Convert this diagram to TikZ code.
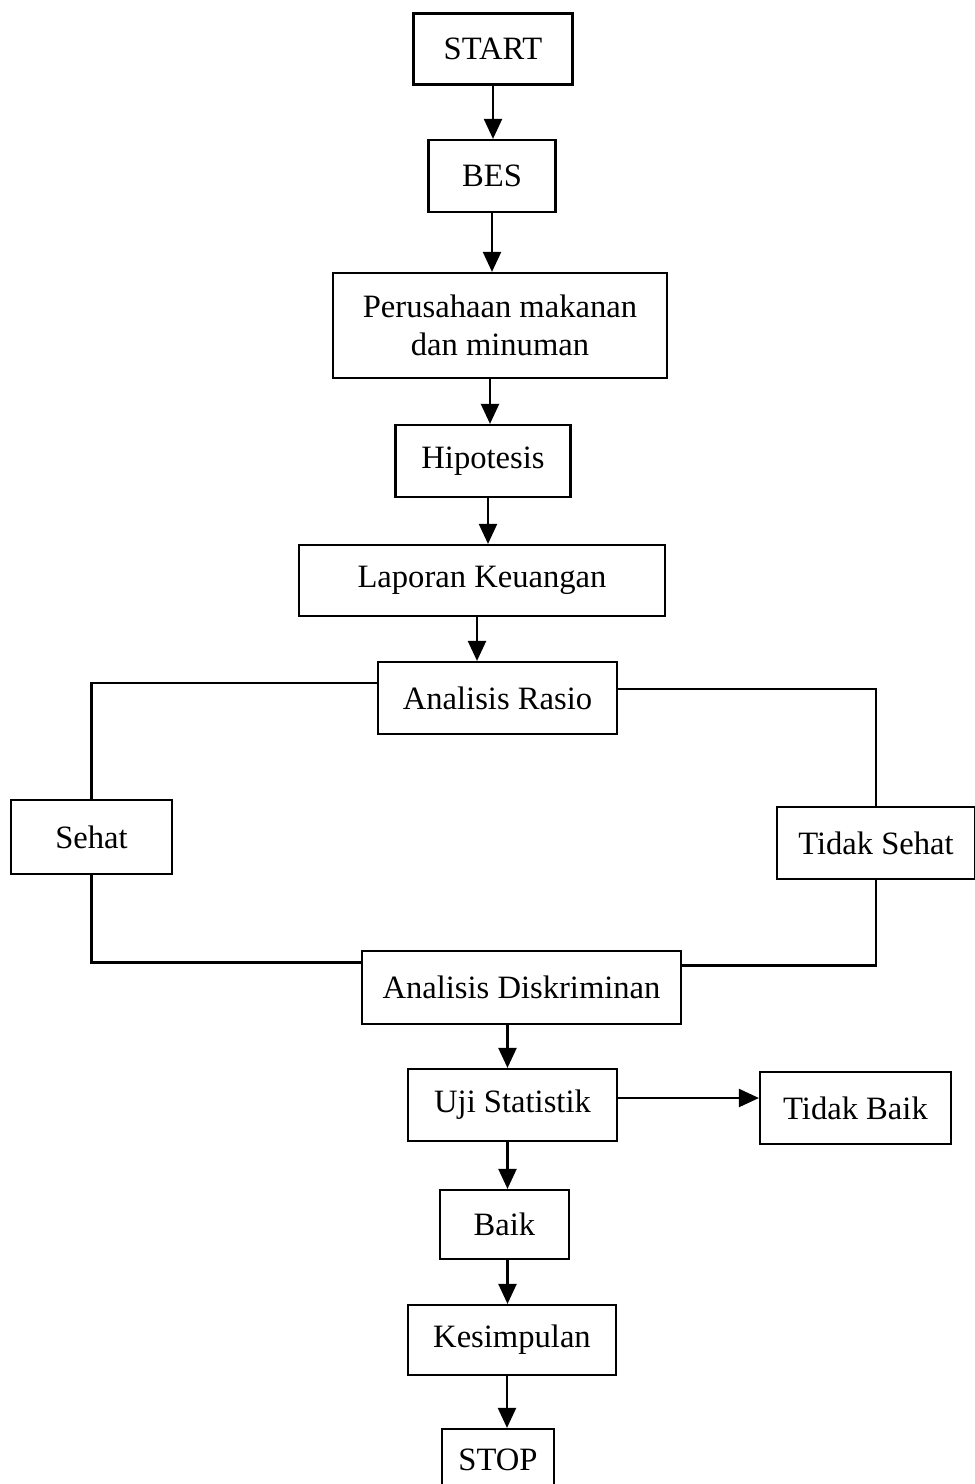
\documentclass[tikz,border=0pt]{standalone}
\usepackage{fontspec}
\setmainfont{Liberation Serif}
\usepackage{tikz}
\usetikzlibrary{arrows.meta}

\begin{document}
\begin{tikzpicture}[%
            x=0.5pt, y=-0.5pt,
            box/.style={
                draw, line width=1.1pt,
                inner sep=0pt, align=center,
                font=\fontsize{16.3}{19}\selectfont,
            },
            arr/.style={
                line width=1.1pt,
                -{Triangle[length=10pt,width=9pt]},
            },
            wire/.style={line width=1.1pt},
        ]
        \useasboundingbox (0,0) rectangle (975,1484);
        \node[box, minimum width=79.5pt, minimum height=35.5pt] (start) at (493,49) {START};
        \node[box, minimum width=63.5pt, minimum height=36pt] (bes) at (492,176) {BES};
        \node[box, minimum width=167pt, minimum height=52.5pt] (usaha) at (500,325.5) {Perusahaan makanan\\dan minuman};
        \node[box, minimum width=87.5pt, minimum height=36pt] (hipotesis) at (483,461) {Hipotesis};
        \node[box, minimum width=183pt, minimum height=35.5pt] (laporan) at (482,580.5) {Laporan Keuangan};
        \node[box, minimum width=119.5pt, minimum height=36pt] (rasio) at (497.5,698) {Analisis Rasio};
        \node[box, minimum width=80.5pt, minimum height=37pt] (sehat) at (91.5,837) {Sehat};
        \node[box, minimum width=99pt, minimum height=36pt] (tsehat) at (876,843) {Tidak Sehat};
        \node[box, minimum width=159.5pt, minimum height=36.5pt] (diskrim) at (521.5,987.5) {Analisis Diskriminan};
        \node[box, minimum width=104.5pt, minimum height=36pt] (uji) at (512.5,1105) {Uji Statistik};
        \node[box, minimum width=95.5pt, minimum height=36pt] (tbaik) at (855.5,1108) {Tidak Baik};
        \node[box, minimum width=64.5pt, minimum height=34.5pt] (baik) at (504.5,1224.5) {Baik};
        \node[box, minimum width=104pt, minimum height=35pt] (simpul) at (512,1340) {Kesimpulan};
        \node[box, minimum width=56pt, minimum height=31pt] (stop) at (498,1460) {STOP};

        \draw[arr] (start.south) -- (start.south |- bes.north);
        \draw[arr] (bes.south) -- (bes.south |- usaha.north);
        \draw[arr] ([xshift=-5pt]usaha.south) -- ([xshift=-5pt]usaha.south |- hipotesis.north);
        \draw[arr] ([xshift=2.5pt]hipotesis.south) -- ([xshift=2.5pt]hipotesis.south |- laporan.north);
        \draw[arr] ([xshift=-2.5pt]laporan.south) -- ([xshift=-2.5pt]laporan.south |- rasio.north);
        \draw[wire] ([yshift=7.5pt]rasio.west) -| (sehat.north);
        \draw[wire] ([yshift=4.5pt]rasio.east) -| (tsehat.north);
        \draw[wire] (sehat.south) |- ([yshift=12.5pt]diskrim.west);
        \draw[wire] (tsehat.south) |- ([yshift=11pt]diskrim.east);
        \draw[arr] ([xshift=-2.5pt]uji.north |- diskrim.south) -- ([xshift=-2.5pt]uji.north);
        \draw[arr] ([yshift=3.5pt]uji.east) -- ([yshift=3.5pt]uji.east -| tbaik.west);
        \draw[arr] ([xshift=-2.5pt]uji.south) -- ([xshift=-2.5pt]uji.south |- baik.north);
        \draw[arr] ([xshift=1.5pt]baik.south) -- ([xshift=1.5pt]baik.south |- simpul.north);
        \draw[arr] ([xshift=-2.5pt]simpul.south) -- ([xshift=-2.5pt]simpul.south |- stop.north);
\end{tikzpicture}
\end{document}
